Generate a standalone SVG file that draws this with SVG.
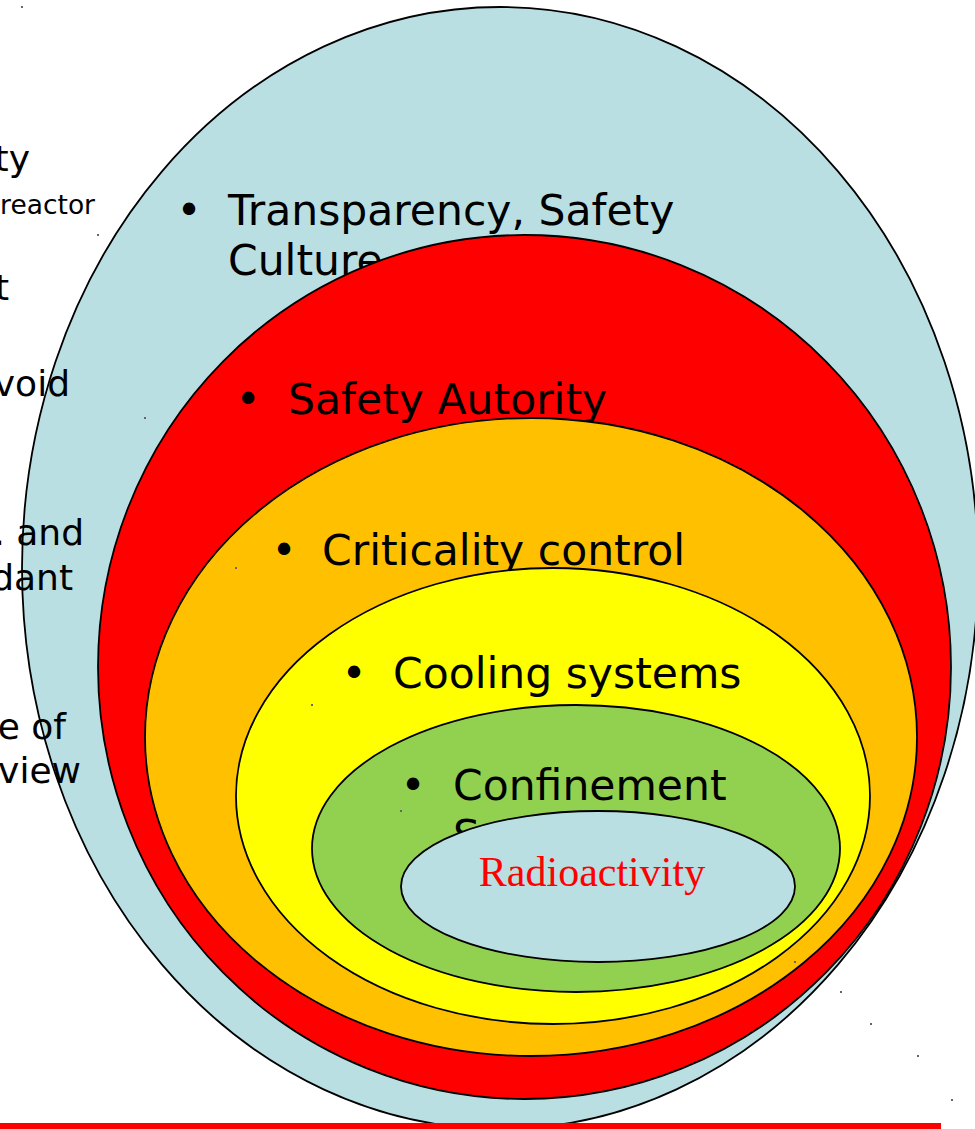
<svg xmlns="http://www.w3.org/2000/svg" width="975" height="1129" viewBox="0 0 975 1129">
<style>
.e{stroke:#000;stroke-width:1.8}
.t{font-family:"DejaVu Sans","Liberation Sans",sans-serif;font-size:42.5px;fill:#000}
.b{font-family:"DejaVu Sans","Liberation Sans",sans-serif;font-size:42.5px;fill:#000;text-anchor:middle}
.l{font-family:"DejaVu Sans","Liberation Sans",sans-serif;font-size:36px;fill:#000;text-anchor:end}
.d{fill:#666}
</style>
<rect width="975" height="1129" fill="#fff"/>
<g id="left-text">
<text class="l" x="30" y="171">ty</text>
<text class="l" x="95" y="214" style="font-size:26.5px">reactor</text>
<text class="l" x="9" y="300">t</text>
</g>
<g id="transparency">
<ellipse class="e" cx="500" cy="568" rx="478" ry="561" fill="#b9dfe3"/>
<text class="b" x="189" y="225">•</text>
<text class="t" x="228" y="225">Transparency, Safety</text>
<text class="t" x="228" y="275">Culture</text>
</g>
<g id="left-text-over">
<text class="l" x="70" y="396">void</text>
<text class="l" x="84" y="545">. and</text>
<text class="l" x="73" y="590">dant</text>
<text class="l" x="66" y="739">e of</text>
<text class="l" x="81" y="783">view</text>
</g>
<g id="safety-authority">
<ellipse class="e" cx="524.5" cy="667" rx="426.5" ry="432" fill="#ff0000"/>
<text class="b" x="248" y="414">•</text>
<text class="t" x="288" y="414">Safety Autority</text>
</g>
<g id="criticality">
<ellipse class="e" cx="531" cy="737" rx="386" ry="319" fill="#ffc000"/>
<text class="b" x="284" y="565">•</text>
<text class="t" x="322" y="565">Criticality control</text>
</g>
<g id="cooling">
<ellipse class="e" cx="553" cy="796" rx="317" ry="228" fill="#ffff00"/>
<text class="b" x="354" y="688">•</text>
<text class="t" x="393" y="688">Cooling systems</text>
</g>
<g id="confinement">
<ellipse class="e" cx="576" cy="848.5" rx="264" ry="143.5" fill="#92d050"/>
<text class="b" x="413" y="800">•</text>
<text class="t" x="453" y="800">Confinement</text>
<text class="t" x="453" y="850">Systems</text>
</g>
<g id="radioactivity">
<ellipse class="e" cx="598" cy="886.5" rx="197" ry="75.5" fill="#b9dfe3"/>
<text x="592" y="886" text-anchor="middle" style="font-family:'Liberation Serif','Times New Roman',serif;font-size:42px;fill:#ff0000">Radioactivity</text>
</g>
<g id="connectors"></g>
<g id="marks">
<rect class="d" x="21" y="6" width="2" height="2"/>
<rect class="d" x="97" y="234" width="2" height="2"/>
<rect class="d" x="144" y="417" width="2" height="2"/>
<rect class="d" x="235" y="567" width="2" height="2"/>
<rect class="d" x="311" y="704" width="2" height="2"/>
<rect class="d" x="400" y="810" width="2" height="2"/>
<rect class="d" x="794" y="961" width="2" height="2"/>
<rect class="d" x="840" y="991" width="2" height="2"/>
<rect class="d" x="870" y="1023" width="2" height="2"/>
<rect class="d" x="917" y="1055" width="2" height="2"/>
<rect class="d" x="951" y="1099" width="2" height="2"/>
</g>
<rect id="bottom-bar" x="0" y="1123" width="941" height="6" fill="#ff0000"/>
</svg>
